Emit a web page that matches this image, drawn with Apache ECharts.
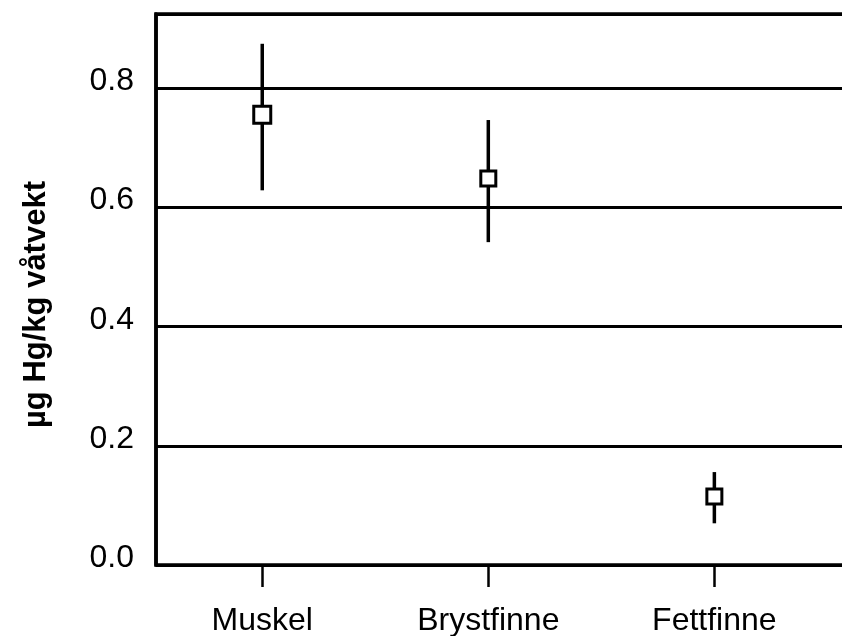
<!DOCTYPE html>
<html>
<head>
<meta charset="utf-8">
<script src="https://cdn.jsdelivr.net/npm/echarts@6/dist/echarts.min.js"></script>
<style>
html,body{margin:0;padding:0;background:#fff;}
#chart{width:842px;height:636px;}
</style>
</head>
<body>
<div id="chart"></div>
<script>
// Data
const categories = ['Muskel', 'Brystfinne', 'Fettfinne'];
const meanValues = [0.756, 0.649, 0.115];
const lowValues = [0.629, 0.542, 0.070];
const highValues = [0.875, 0.747, 0.156];
const yTickValues = [0, 0.2, 0.4, 0.6, 0.8];
const yAxisTitle = 'µg Hg/kg våtvekt';

const xPos = categories.map((c, i) => i + 1);
const pointData = xPos.map((x, i) => [x, meanValues[i]]);
const barData = xPos.map((x, i) => [x, lowValues[i], highValues[i]]);

const chart = echarts.init(document.getElementById('chart'), null, {renderer: 'canvas'});
const font = '"Liberation Sans", Arial, Helvetica, sans-serif';

chart.setOption({
  animation: false,
  backgroundColor: '#fff',
  grid: {
    left: 156, top: 14, bottom: 71, right: -8,
    outerBoundsMode: 'none',
    containLabel: false,
    show: true, borderColor: '#000', borderWidth: 3.5, backgroundColor: 'transparent'
  },
  xAxis: {
    type: 'value',
    min: 0.53, max: 3.6,
    offset: 3,
    axisLine: {show: false},
    splitLine: {show: false},
    axisTick: {show: true, customValues: xPos, length: 22, lineStyle: {color: '#000', width: 2.5}},
    axisLabel: {
      customValues: xPos,
      formatter: v => categories[Math.round(v) - 1] || '',
      color: '#000', fontFamily: font, fontSize: 32, margin: 37
    }
  },
  yAxis: {
    type: 'value',
    min: 0, max: 0.925,
    name: yAxisTitle,
    nameLocation: 'middle',
    nameGap: 104,
    nameTextStyle: {color: '#000', fontFamily: font, fontSize: 31, fontWeight: 'bold', padding: [0, 30, 0, 0]},
    axisLine: {show: true, lineStyle: {color: '#000', width: 3.5}},
    axisTick: {show: false},
    splitLine: {show: true, lineStyle: {color: '#000', width: 3}},
    axisLabel: {
      customValues: yTickValues,
      formatter: v => v.toFixed(1),
      color: '#000', fontFamily: font, fontSize: 32, margin: 22,
      verticalAlign: 'bottom', lineHeight: 14
    }
  },
  series: [
    {
      type: 'custom',
      data: barData,
      z: 3,
      renderItem: function (params, api) {
        const x = api.value(0);
        const p1 = api.coord([x, api.value(1)]);
        const p2 = api.coord([x, api.value(2)]);
        return {
          type: 'line',
          shape: {x1: p1[0], y1: p1[1], x2: p2[0], y2: p2[1]},
          style: {stroke: '#000', lineWidth: 3.5}
        };
      }
    },
    {
      type: 'scatter',
      data: pointData,
      z: 5,
      symbol: 'rect',
      symbolSize: (val, params) => params.dataIndex === 0 ? 17 : 15,
      itemStyle: {color: '#fff', borderColor: '#000', borderWidth: 3, opacity: 1}
    }
  ]
});
</script>
</body>
</html>
